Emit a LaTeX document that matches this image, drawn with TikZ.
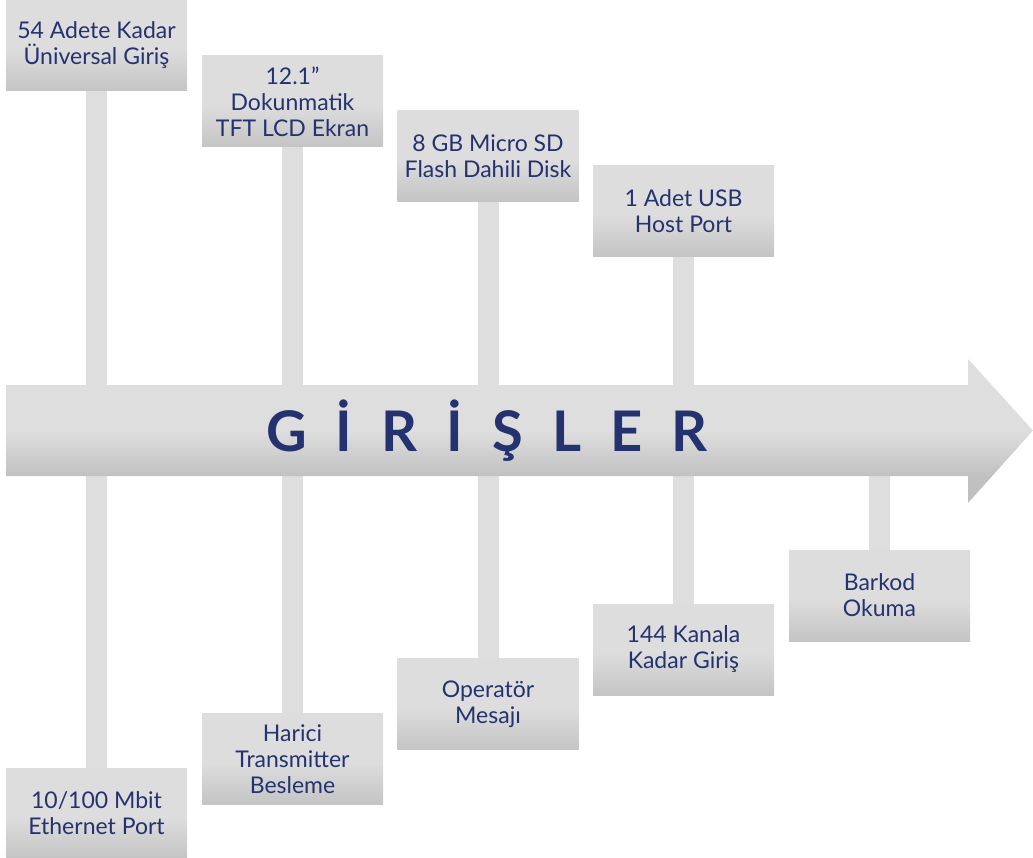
\documentclass[tikz,border=0pt]{standalone}
\usepackage{fontspec}
\setmainfont{Lato}
\usetikzlibrary{backgrounds}
\definecolor{navy}{RGB}{37,50,112}
\definecolor{barc}{RGB}{222,222,222}
\definecolor{shtop}{RGB}{222,222,222}
\definecolor{shbot}{RGB}{192,192,192}
\definecolor{bxtop}{RGB}{221,221,221}
\definecolor{bxbot}{RGB}{196,196,196}
\pgfdeclareverticalshading{arrowshade}{100bp}{color(0bp)=(shbot); color(34bp)=(shbot); color(50bp)=(shtop); color(100bp)=(shtop)}
\pgfdeclareverticalshading{boxshade}{100bp}{color(0bp)=(bxbot); color(25bp)=(bxbot); color(48bp)=(bxtop); color(100bp)=(bxtop)}
\tikzset{
  infobox/.style={shading=boxshade, minimum width=181pt, minimum height=91pt, inner sep=0pt, align=center, text=navy, font=\fontsize{23}{26}\selectfont},
  bar/.style={draw=barc, line width=21pt},
}
\begin{document}
\begin{tikzpicture}[x=1pt,y=-1pt]
\useasboundingbox (0,0) rectangle (1033,858);
% arrow
\shade[shading=arrowshade] (6,385) -- (968,385) -- (968,359) -- (1033,430.5) -- (968,503) -- (968,476) -- (6,476) -- cycle;
\node[inner sep=0pt, minimum width=962pt, minimum height=91pt] (band) at (487,430.5) {};
\node[text=navy, font=\fontsize{56}{60}\selectfont\bfseries\addfontfeature{LetterSpace=52}, inner sep=0pt] (title) at (487,430.5) {GİRİŞLER};
% boxes
\node[infobox] (b1) at (96.5,45.5) {54 Adete Kadar\\Üniversal Giriş};
\node[infobox] (b2) at (292.5,101.5) {12.1”\\Dokunmatik\\TFT LCD Ekran};
\node[infobox] (b3) at (488,156) {8 GB Micro SD\\Flash Dahili Disk};
\node[infobox] (b4) at (683.5,211) {1 Adet USB\\Host Port};
\node[infobox] (b5) at (96.5,813.5) {10/100 Mbit\\Ethernet Port};
\node[infobox] (b6) at (292.5,759) {Harici\\Transmitter\\Besleme};
\node[infobox] (b7) at (488,704) {Operatör\\Mesajı};
\node[infobox] (b8) at (683.5,649.5) {144 Kanala\\Kadar Giriş};
\node[infobox] (b9) at (879.5,595.5) {Barkod\\Okuma};
\begin{scope}[on background layer]
\foreach \b in {b1,b2,b3,b4} {\draw[bar] (\b.south) -- (\b.south |- band.north);}
\foreach \b in {b5,b6,b7,b8,b9} {\draw[bar] (\b.north) -- (\b.north |- band.south);}
\end{scope}
\end{tikzpicture}
\end{document}
